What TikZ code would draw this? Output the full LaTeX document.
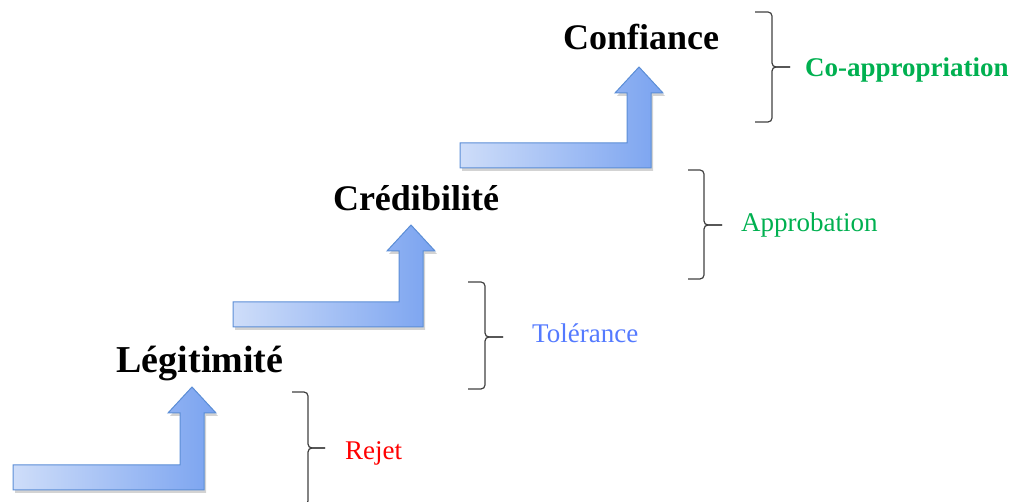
\documentclass[tikz,border=0pt]{standalone}
\usepackage{fontspec}
\setmainfont{Liberation Serif}
\usetikzlibrary{shadows}

\definecolor{arrowlight}{RGB}{206,221,249}
\definecolor{arrowdark}{RGB}{122,163,240}
\definecolor{arrowline}{RGB}{92,142,214}
\definecolor{rejetred}{RGB}{255,0,0}
\definecolor{tolblue}{RGB}{84,122,255}
\definecolor{appgreen}{RGB}{0,176,80}
\definecolor{bracegray}{RGB}{64,64,64}

\tikzset{
  stairarrow/.style={draw=arrowline, line width=1pt, left color=arrowlight, right color=arrowdark,
    drop shadow={opacity=0.35, shadow xshift=2pt, shadow yshift=-3pt}},
  bracket/.style={draw=bracegray, line width=1.2pt, rounded corners=4pt},
  level/.style={font=\fontsize{36}{40}\selectfont\bfseries, anchor=base, inner sep=0pt},
  phase/.style={font=\fontsize{27}{30}\selectfont, anchor=base west, inner sep=0pt}
}

\begin{document}
\begin{tikzpicture}[x=1pt, y=-1pt]
\useasboundingbox (0,0) rectangle (1013,502);

\path[stairarrow] (13,490) -- ++(0,-25) -- ++(167,0) -- ++(0,-52) -- ++(-12,0) -- ++(24,-26) -- ++(24,26) -- ++(-12,0) -- ++(0,77) -- cycle;
\node[level, font=\fontsize{38}{42}\selectfont\bfseries] (legitimite) at (200,373) {Légitimité};

\path[stairarrow] (233,327) -- ++(0,-25) -- ++(166,0) -- ++(0,-51) -- ++(-12,0) -- ++(24,-26) -- ++(24,26) -- ++(-12,0) -- ++(0,76) -- cycle;
\node[level] (credibilite) at (416,211) {Crédibilité};

\path[stairarrow] (460,168) -- ++(0,-25) -- ++(167,0) -- ++(0,-50) -- ++(-12,0) -- ++(24,-26) -- ++(24,26) -- ++(-12,0) -- ++(0,75) -- cycle;
\node[level] (confiance) at (641,50) {Confiance};

\draw[bracket] (292,392) -- (308,392) -- (308,448) -- (325,448);
\draw[bracket] (292,505) -- (308,505) -- (308,448) -- (325,448);
\node[phase, text=rejetred] (rejet) at (345,460) {Rejet};

\draw[bracket] (468,282) -- (485,282) -- (485,337) -- (503,337);
\draw[bracket] (468,389) -- (485,389) -- (485,337) -- (503,337);
\node[phase, text=tolblue] (tolerance) at (532,343) {Tolérance};

\draw[bracket] (688,170) -- (704,170) -- (704,225) -- (722,225);
\draw[bracket] (688,279) -- (704,279) -- (704,225) -- (722,225);
\node[phase, text=appgreen] (approbation) at (741,232) {Approbation};

\draw[bracket] (755,12) -- (772,12) -- (772,67) -- (790,67);
\draw[bracket] (755,122) -- (772,122) -- (772,67) -- (790,67);
\node[phase, text=appgreen, font=\fontsize{27}{30}\selectfont\bfseries] (coappropriation) at (805,77) {Co-appropriation};
\end{tikzpicture}
\end{document}
